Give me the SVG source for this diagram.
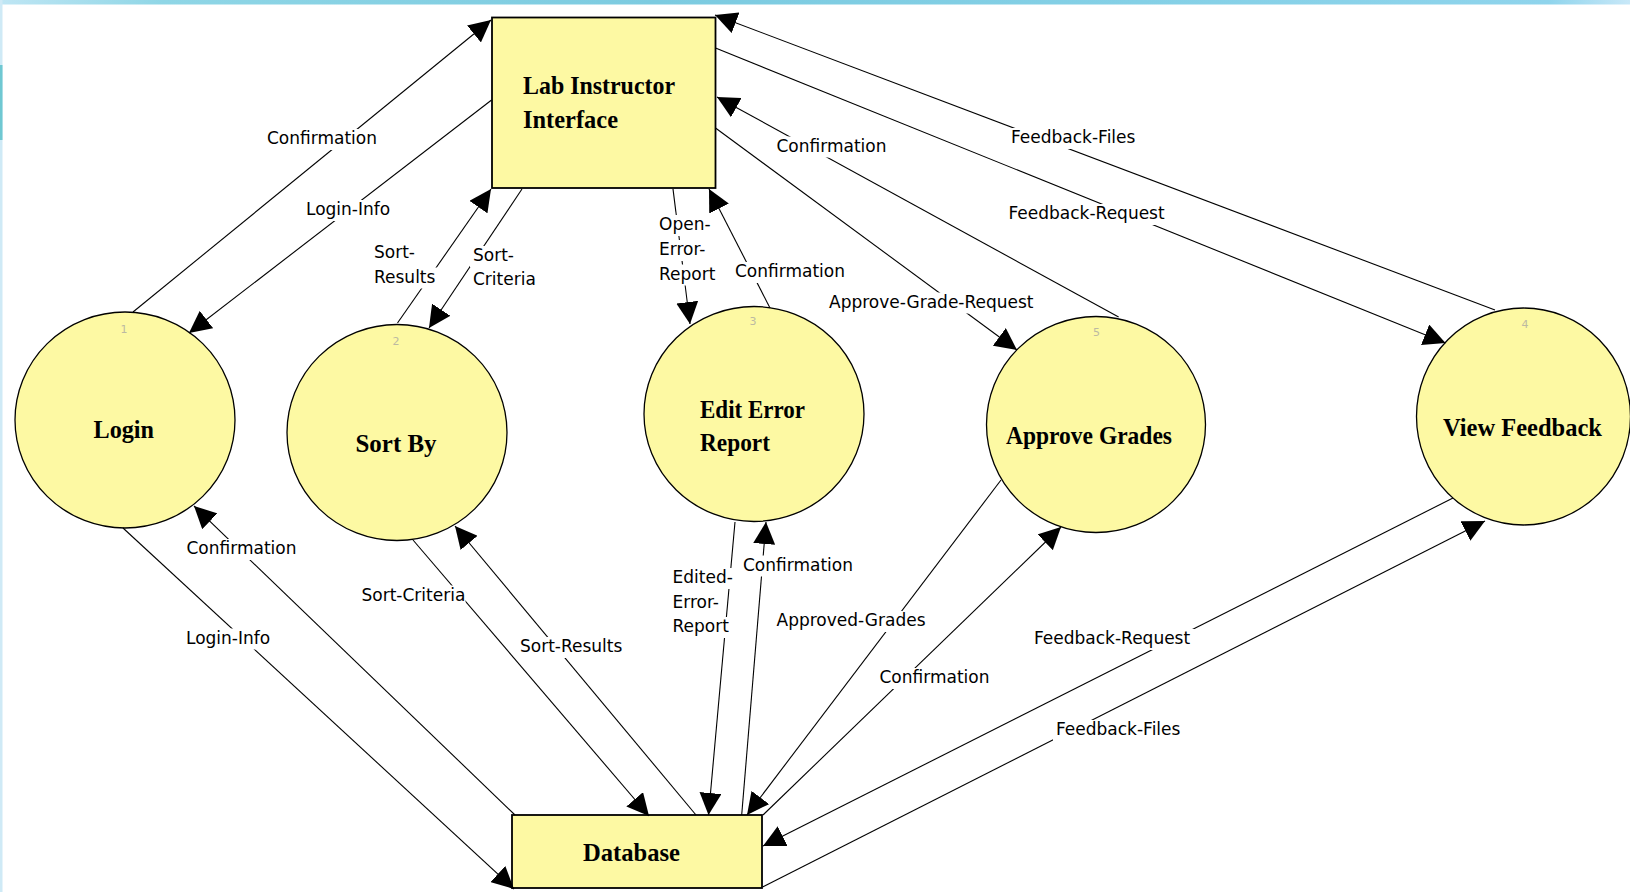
<svg xmlns="http://www.w3.org/2000/svg" width="1630" height="892" viewBox="0 0 1630 892">
<style>
.node{fill:#fdf9a3;stroke:#000;stroke-width:1.3}
.box{fill:#fdf9a3;stroke:#000;stroke-width:1.8}
.nl{font-family:"Liberation Serif","Times New Roman",serif;font-weight:bold;font-size:25px;fill:#000}
.num{font-family:"DejaVu Sans",sans-serif;font-size:11px;fill:#bcb9a2;text-anchor:middle}
.flow{stroke:#000;stroke-width:1.1;fill:none;marker-end:url(#arr)}
.lbl{font-family:"DejaVu Sans",sans-serif;font-size:17px;fill:#000}
.bg{fill:#fff}
</style>
<defs>
<marker id="arr" markerUnits="userSpaceOnUse" markerWidth="22" markerHeight="22" refX="22" refY="11" orient="auto" viewBox="0 0 22 22">
<path d="M0,0 L22,11 L0,22 Z" fill="#000"/>
</marker>
<linearGradient id="topg" x1="0" y1="0" x2="1" y2="0">
<stop offset="0" stop-color="#bfe6f4"/>
<stop offset="0.1" stop-color="#8fd6e6"/>
<stop offset="0.4" stop-color="#7ccbe0"/>
<stop offset="0.7" stop-color="#84d0e6"/>
<stop offset="0.95" stop-color="#8fd4ec"/>
<stop offset="1" stop-color="#c8e8f8"/>
</linearGradient>
</defs>
<rect x="0" y="0" width="1630" height="892" fill="#fff"/>
<rect x="0" y="0" width="1630" height="4.5" fill="url(#topg)"/>
<rect x="0" y="0" width="2.5" height="892" fill="#cfeaf6"/>
<rect x="0" y="65" width="2.5" height="75" fill="#6fc8d2"/>

<g id="lab-instructor-interface">
<rect class="box" x="492" y="17.5" width="223.5" height="170.5"/>
<text class="nl" x="523" y="94.3" textLength="152" lengthAdjust="spacingAndGlyphs">Lab Instructor</text>
<text class="nl" x="523" y="127.7" textLength="95" lengthAdjust="spacingAndGlyphs">Interface</text>
</g>
<g id="login">
<ellipse class="node" cx="125" cy="420" rx="110" ry="108"/>
<text class="num" x="124" y="333">1</text>
<text class="nl" x="93.5" y="438" textLength="60.5" lengthAdjust="spacingAndGlyphs">Login</text>
</g>
<g id="sort-by">
<ellipse class="node" cx="397" cy="432.5" rx="110" ry="108"/>
<text class="num" x="396" y="345">2</text>
<text class="nl" x="355.5" y="451.5" textLength="81" lengthAdjust="spacingAndGlyphs">Sort By</text>
</g>
<g id="edit-error-report">
<ellipse class="node" cx="754" cy="414" rx="110" ry="107.5"/>
<text class="num" x="753" y="325">3</text>
<text class="nl" x="700" y="418" textLength="105" lengthAdjust="spacingAndGlyphs">Edit Error</text>
<text class="nl" x="700" y="450.5" textLength="70" lengthAdjust="spacingAndGlyphs">Report</text>
</g>
<g id="approve-grades">
<ellipse class="node" cx="1096" cy="424.5" rx="109.5" ry="108"/>
<text class="num" x="1096.5" y="336">5</text>
<text class="nl" x="1006" y="444" textLength="166" lengthAdjust="spacingAndGlyphs">Approve Grades</text>
</g>
<g id="view-feedback">
<ellipse class="node" cx="1523.5" cy="416.5" rx="107" ry="108.5"/>
<text class="num" x="1525" y="328">4</text>
<text class="nl" x="1443" y="435.5" textLength="159" lengthAdjust="spacingAndGlyphs">View Feedback</text>
</g>
<g id="database">
<rect class="box" x="512" y="815" width="250" height="73"/>
<text class="nl" x="583" y="860.5" textLength="97" lengthAdjust="spacingAndGlyphs">Database</text>
</g>

<g id="connectors">
<path class="flow" d="M133,312 L491,20"/>
<path class="flow" d="M491.6,100 L189,333"/>
<path class="flow" d="M397.5,323 L491,189"/>
<path class="flow" d="M522,189 L429,328"/>
<path class="flow" d="M673,189 L690,324"/>
<path class="flow" d="M770,308 L709,189"/>
<path class="flow" d="M715.5,128 L1017,350"/>
<path class="flow" d="M1118.6,317 L717,97"/>
<path class="flow" d="M715.5,48 L1445.5,343"/>
<path class="flow" d="M1495,310 L715,15"/>
<path class="flow" d="M123,528 L514,889"/>
<path class="flow" d="M515,815 L194,506"/>
<path class="flow" d="M413,540 L649,816"/>
<path class="flow" d="M696,815 L455,526"/>
<path class="flow" d="M735,522 L708.5,815"/>
<path class="flow" d="M741.7,815 L766,522"/>
<path class="flow" d="M1001,480 L747,815"/>
<path class="flow" d="M763,815 L1061,527"/>
<path class="flow" d="M1453,498 L763,846"/>
<path class="flow" d="M762.6,887 L1485,521"/>

<g id="labels">
<rect class="bg" x="264" y="129" width="115" height="21"/><text class="lbl" x="267" y="144">Confirmation</text>
<rect class="bg" x="303" y="200" width="90" height="21"/><text class="lbl" x="306" y="215">Login-Info</text>
<rect class="bg" x="371" y="242.5" width="45" height="21"/><text class="lbl" x="374" y="257.5">Sort-</text>
<rect class="bg" x="371" y="267.5" width="69" height="21"/><text class="lbl" x="374" y="282.5">Results</text>
<rect class="bg" x="470" y="246" width="47" height="21"/><text class="lbl" x="473" y="261">Sort-</text>
<rect class="bg" x="470" y="270" width="65" height="21"/><text class="lbl" x="473" y="285">Criteria</text>
<rect class="bg" x="656" y="215" width="50" height="21"/><text class="lbl" x="659" y="230">Open-</text>
<rect class="bg" x="656" y="240" width="50" height="21"/><text class="lbl" x="659" y="255">Error-</text>
<rect class="bg" x="656" y="264.5" width="63" height="21"/><text class="lbl" x="659" y="279.5">Report</text>
<rect class="bg" x="732" y="262" width="115" height="21"/><text class="lbl" x="735" y="277">Confirmation</text>
<rect class="bg" x="826" y="292.5" width="212" height="21"/><text class="lbl" x="829" y="307.5">Approve-Grade-Request</text>
<rect class="bg" x="773.5" y="136.5" width="115" height="21"/><text class="lbl" x="776.5" y="151.5">Confirmation</text>
<rect class="bg" x="1005.5" y="204" width="164" height="21"/><text class="lbl" x="1008.5" y="219">Feedback-Request</text>
<rect class="bg" x="1008" y="128" width="135" height="21"/><text class="lbl" x="1011" y="143">Feedback-Files</text>
<rect class="bg" x="183" y="628.5" width="90" height="21"/><text class="lbl" x="186" y="643.5">Login-Info</text>
<rect class="bg" x="183.5" y="539" width="115" height="21"/><text class="lbl" x="186.5" y="554">Confirmation</text>
<rect class="bg" x="358.5" y="585.5" width="107" height="21"/><text class="lbl" x="361.5" y="600.5">Sort-Criteria</text>
<rect class="bg" x="517" y="637" width="111" height="21"/><text class="lbl" x="520" y="652">Sort-Results</text>
<rect class="bg" x="669.5" y="568" width="64" height="21"/><text class="lbl" x="672.5" y="583">Edited-</text>
<rect class="bg" x="669.5" y="593" width="50" height="21"/><text class="lbl" x="672.5" y="608">Error-</text>
<rect class="bg" x="669.5" y="617" width="63" height="21"/><text class="lbl" x="672.5" y="632">Report</text>
<rect class="bg" x="740" y="555.5" width="115" height="21"/><text class="lbl" x="743" y="570.5">Confirmation</text>
<rect class="bg" x="773.5" y="611" width="152" height="21"/><text class="lbl" x="776.5" y="626">Approved-Grades</text>
<rect class="bg" x="876.5" y="668" width="115" height="21"/><text class="lbl" x="879.5" y="683">Confirmation</text>
<rect class="bg" x="1031" y="629" width="165" height="21"/><text class="lbl" x="1034" y="644">Feedback-Request</text>
<rect class="bg" x="1053" y="720" width="135" height="21"/><text class="lbl" x="1056" y="735">Feedback-Files</text>
</g>
</g>
</svg>
